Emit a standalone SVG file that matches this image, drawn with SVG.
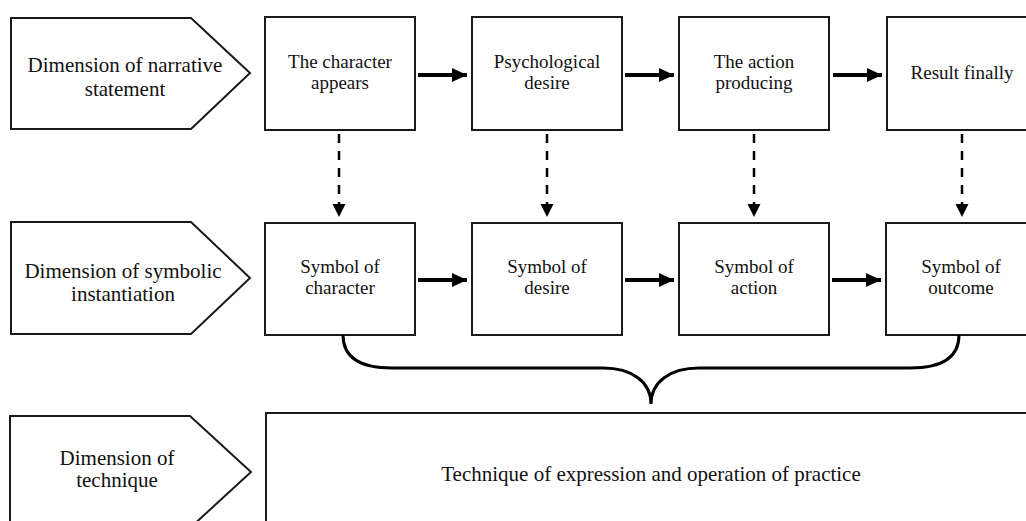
<svg xmlns="http://www.w3.org/2000/svg" width="1026" height="521" viewBox="0 0 1026 521">
<style>
.box{fill:#fff;stroke:#1a1a1a;stroke-width:2}
.lbl{font-size:21px;fill:#111;text-anchor:middle}
.txt{font-size:19px;fill:#111;text-anchor:middle}
.solid{stroke:#000;stroke-width:4;fill:none}
.dash{stroke:#000;stroke-width:2.5;fill:none;stroke-dasharray:9 8}
.brace{stroke:#000;stroke-width:3;fill:none}
</style>
<defs>
<marker id="ah" markerWidth="16" markerHeight="14" refX="15" refY="7" orient="auto" markerUnits="userSpaceOnUse">
<path d="M0,0 L15,7 L0,14 Z" fill="#000"/>
</marker>
<marker id="ahd" markerWidth="14" markerHeight="16" refX="13" refY="6.5" orient="auto" markerUnits="userSpaceOnUse">
<path d="M0,0 L13,6.5 L0,13 Z" fill="#000"/>
</marker>
</defs>
<g font-family="Liberation Serif, DejaVu Serif, serif">
<g id="dim-narrative">
<path class="box" d="M11,18 H191 L250,73 L191,129 H11 Z"/>
<text class="lbl" x="125" y="72">Dimension of narrative</text>
<text class="lbl" x="125" y="96">statement</text>
</g>
<g id="dim-symbolic">
<path class="box" d="M11,222 H191 L250,278 L191,334 H11 Z"/>
<text class="lbl" x="123" y="278">Dimension of symbolic</text>
<text class="lbl" x="123" y="301">instantiation</text>
</g>
<g id="dim-technique">
<path class="box" d="M10,416 H190 L251,472 L190,528 H10 Z"/>
<text class="lbl" x="117" y="465">Dimension of</text>
<text class="lbl" x="117" y="487">technique</text>
</g>

<g id="n-character">
<rect class="box" x="265" y="17" width="150" height="113"/>
<text class="txt" x="340" y="68">The character</text>
<text class="txt" x="340" y="89">appears</text>
</g>
<g id="n-desire">
<rect class="box" x="472" y="17" width="150" height="113"/>
<text class="txt" x="547" y="68">Psychological</text>
<text class="txt" x="547" y="89">desire</text>
</g>
<g id="n-action">
<rect class="box" x="679" y="17" width="150" height="113"/>
<text class="txt" x="754" y="68">The action</text>
<text class="txt" x="754" y="89">producing</text>
</g>
<g id="n-result">
<rect class="box" x="887" y="17" width="150" height="113"/>
<text class="txt" x="962" y="79">Result finally</text>
</g>

<g id="s-character">
<rect class="box" x="265" y="223" width="150" height="112"/>
<text class="txt" x="340" y="273">Symbol of</text>
<text class="txt" x="340" y="294">character</text>
</g>
<g id="s-desire">
<rect class="box" x="472" y="223" width="150" height="112"/>
<text class="txt" x="547" y="273">Symbol of</text>
<text class="txt" x="547" y="294">desire</text>
</g>
<g id="s-action">
<rect class="box" x="679" y="223" width="150" height="112"/>
<text class="txt" x="754" y="273">Symbol of</text>
<text class="txt" x="754" y="294">action</text>
</g>
<g id="s-outcome">
<rect class="box" x="886" y="223" width="150" height="112"/>
<text class="txt" x="961" y="273">Symbol of</text>
<text class="txt" x="961" y="294">outcome</text>
</g>

<g id="technique">
<rect class="box" x="266" y="413" width="770" height="120"/>
<text class="lbl" x="651" y="481">Technique of expression and operation of practice</text>
</g>
</g>
<g id="connectors">
<line class="solid" x1="418" y1="75" x2="467" y2="75" marker-end="url(#ah)"/>
<line class="solid" x1="625" y1="75" x2="674" y2="75" marker-end="url(#ah)"/>
<line class="solid" x1="833" y1="75" x2="882" y2="75" marker-end="url(#ah)"/>
<line class="solid" x1="418" y1="280" x2="467" y2="280" marker-end="url(#ah)"/>
<line class="solid" x1="625" y1="280" x2="674" y2="280" marker-end="url(#ah)"/>
<line class="solid" x1="832" y1="280" x2="881" y2="280" marker-end="url(#ah)"/>
<line class="dash" x1="339" y1="134" x2="339" y2="217" marker-end="url(#ahd)"/>
<line class="dash" x1="547" y1="134" x2="547" y2="217" marker-end="url(#ahd)"/>
<line class="dash" x1="754" y1="134" x2="754" y2="217" marker-end="url(#ahd)"/>
<line class="dash" x1="962" y1="134" x2="962" y2="217" marker-end="url(#ahd)"/>
<path class="brace" d="M343,335 C343,358 360,368 392,368 H603 C632,368 651,382 651,404 C651,382 670,368 699,368 H910 C942,368 959,358 959,335"/>
</g>
</svg>
